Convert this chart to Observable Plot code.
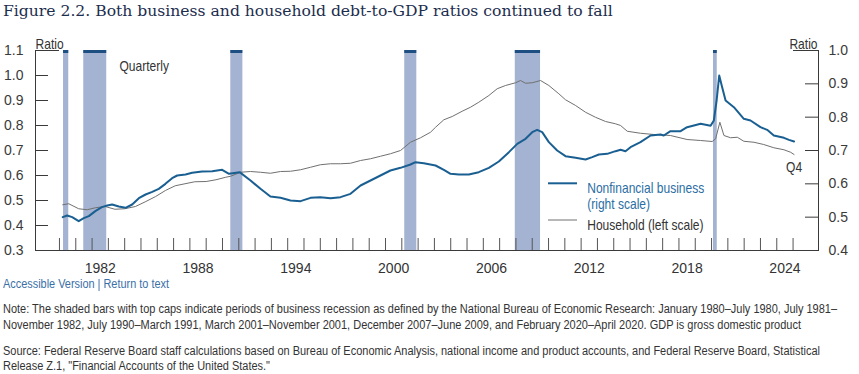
<!DOCTYPE html>
<html><head><meta charset="utf-8">
<script src="https://cdn.jsdelivr.net/npm/d3@7"></script>
<script src="https://cdn.jsdelivr.net/npm/@observablehq/plot@0.6"></script>
<style>
body{margin:0;background:#fff;}
#wrap{position:relative;width:859px;height:374px;overflow:hidden;background:#fff;}
.t{position:absolute;left:3px;white-space:nowrap;}
#title{top:3.8px;font:15.6px/15.6px "DejaVu Serif",serif;color:#1c2d4e;}
#chart{position:absolute;left:0;top:22px;}
.n{font:12px/12px "Liberation Sans",Arial,sans-serif;color:#333;transform-origin:0 0;}
</style></head>
<body><div id="wrap">
<div id="title" class="t">Figure 2.2. Both business and household debt-to-GDP ratios continued to fall</div>
<div id="chart"></div>
<div class="t n" data-right="169" style="top:277.5px;color:#3a70a8">Accessible Version | Return to text</div>
<div class="t n" data-right="837" style="top:303.3px">Note: The shaded bars with top caps indicate periods of business recession as defined by the National Bureau of Economic Research: January 1980–July 1980, July 1981–</div>
<div class="t n" data-right="801" style="top:319.3px">November 1982, July 1990–March 1991, March 2001–November 2001, December 2007–June 2009, and February 2020–April 2020. GDP is gross domestic product</div>
<div class="t n" data-right="820" style="top:344.6px">Source: Federal Reserve Board staff calculations based on Bureau of Economic Analysis, national income and product accounts, and Federal Reserve Board, Statistical</div>
<div class="t n" data-right="270" style="top:360.3px">Release Z.1, "Financial Accounts of the United States."</div>
</div>
<script>
const householdYears = [1980.2,1980.57,1981.18,1981.7,1982.2,1982.8,1983.4,1984.0,1984.66,1985.3,1985.9,1986.5,1987.1,1987.7,1988.3,1989.0,1989.6,1990.2,1990.5,1991.1,1991.72,1992.33,1992.94,1993.56,1994.17,1994.79,1995.4,1996.0,1996.63,1997.24,1997.85,1998.47,1999.08,1999.69,2000.3,2000.92,2001.53,2002.15,2002.76,2003.07,2003.58,2004.09,2004.7,2005.21,2005.72,2006.34,2006.85,2007.36,2007.98,2008.28,2008.59,2009.0,2009.51,2010.02,2010.63,2011.04,2011.66,2012.27,2012.88,2013.5,2014.1,2014.42,2014.83,2015.64,2016.46,2017.48,2018.5,2019.33,2020.04,2020.25,2020.51,2020.76,2021.17,2021.58,2021.98,2022.6,2023.2,2023.82,2024.44,2024.85,2025.06];
const householdValues = [0.483,0.487,0.467,0.463,0.471,0.476,0.465,0.467,0.476,0.496,0.516,0.54,0.559,0.567,0.575,0.576,0.583,0.593,0.597,0.613,0.616,0.613,0.609,0.616,0.617,0.623,0.633,0.643,0.647,0.647,0.649,0.66,0.667,0.677,0.687,0.70,0.733,0.751,0.773,0.793,0.823,0.836,0.857,0.873,0.893,0.92,0.947,0.96,0.971,0.98,0.969,0.971,0.98,0.96,0.927,0.903,0.88,0.853,0.833,0.816,0.807,0.80,0.777,0.769,0.764,0.76,0.744,0.74,0.736,0.747,0.813,0.76,0.751,0.753,0.737,0.733,0.724,0.711,0.703,0.693,0.684];
const businessYears = [1980.2,1980.47,1980.78,1981.18,1981.49,1981.8,1982.2,1982.6,1982.93,1983.23,1983.64,1984.05,1984.46,1984.87,1985.28,1985.69,1986.09,1986.5,1986.91,1987.22,1987.73,1988.14,1988.75,1989.37,1989.98,1990.4,1991.05,1991.72,1992.33,1992.94,1993.56,1994.17,1994.79,1995.4,1996.0,1996.63,1997.24,1997.85,1998.47,1999.08,1999.69,2000.3,2000.92,2001.53,2001.84,2002.35,2003.07,2003.58,2003.99,2004.5,2005.11,2005.72,2006.34,2006.95,2007.57,2008.08,2008.59,2009.0,2009.3,2009.61,2010.02,2010.53,2011.04,2011.66,2012.27,2012.68,2013.09,2013.6,2014.11,2014.42,2014.72,2015.03,2015.64,2016.26,2016.87,2017.07,2017.48,2018.1,2018.5,2019.33,2019.94,2020.14,2020.31,2020.47,2020.65,2020.86,2021.37,2021.98,2022.39,2023.0,2023.41,2023.82,2024.44,2024.75,2025.06];
const businessValues = [0.50,0.505,0.50,0.488,0.497,0.503,0.518,0.53,0.535,0.538,0.532,0.528,0.538,0.557,0.568,0.576,0.585,0.60,0.617,0.625,0.628,0.633,0.637,0.638,0.642,0.63,0.635,0.61,0.585,0.562,0.558,0.55,0.548,0.558,0.56,0.557,0.56,0.57,0.595,0.61,0.625,0.64,0.648,0.658,0.665,0.662,0.655,0.642,0.63,0.628,0.628,0.635,0.648,0.667,0.695,0.72,0.735,0.755,0.762,0.755,0.725,0.70,0.683,0.678,0.673,0.68,0.688,0.69,0.698,0.702,0.698,0.71,0.725,0.745,0.748,0.745,0.758,0.758,0.77,0.78,0.774,0.79,0.85,0.925,0.89,0.85,0.83,0.795,0.79,0.77,0.762,0.745,0.738,0.732,0.727];
const recessionStarts = [1980.25,1981.49,1990.51,2001.18,2007.96,2020.12];
const recessionEnds = [1980.57,1982.9,1991.25,2001.92,2009.51,2020.35];
const leftTicks = [0.3,0.4,0.5,0.6,0.7,0.8,0.9,1.0,1.1];
const rightTicks = [0.4,0.5,0.6,0.7,0.8,0.9,1.0];
const yearTicks = d3.range(1980, 2026);
const yearLabels = [1982,1988,1994,2000,2006,2012,2018,2024];
const xDomain = [1978.53, 2026.56];

const household = householdYears.map((year,i)=>({year, value: householdValues[i]}));
const business = businessYears.map((year,i)=>({year, value: businessValues[i]}));
const recessions = recessionStarts.map((start,i)=>({start, end: recessionEnds[i]}));
const toLeft = d3.scaleLinear().domain([0.4,1.0]).range([0.3,1.1]);
const narrow = "'Liberation Sans',Arial,sans-serif";
const fmt = d3.format(".1f");
const axisColor = "#3a3a3a";
const blue = "#1a5f91", gray = "#707070";

const legend = (index, scales, values, dim) => {
  const g = d3.create("svg:g");
  const x0 = dim.marginLeft, y0 = dim.marginTop;
  g.append("line").attr("x1", x0+513).attr("x2", x0+542).attr("y1", y0+133.3).attr("y2", y0+133.3).attr("stroke", blue).attr("stroke-width", 2);
  g.append("line").attr("x1", x0+513).attr("x2", x0+542).attr("y1", y0+170).attr("y2", y0+170).attr("stroke", gray).attr("stroke-width", 1);
  return g.node();
};
const lbl = (s, o) => Plot.text([s], {textAnchor: "start", fontFamily: narrow, fontSize: 14, fill: "#333", stroke: "none", ...o, className: "narrowtext"});

const chart = Plot.plot({
  width: 859, height: 256,
  marginTop: 28, marginRight: 41, marginBottom: 28, marginLeft: 35,
  x: {domain: xDomain},
  y: {domain: [0.3, 1.1]},
  style: {fontFamily: "'Liberation Sans',Arial,sans-serif", fontSize: "14px", color: "#333", background: "#fff"},
  marks: [
    Plot.rect(recessions, {x1: "start", x2: "end", fill: "#a4b3d1"}),
    Plot.rect(recessions, {x1: "start", x2: "end", fill: "#1e4f82", insetBottom: 197}),
    Plot.line(household, {x: "year", y: "value", stroke: gray, strokeWidth: 1}),
    Plot.line(business, {x: "year", y: d => toLeft(d.value), stroke: blue, strokeWidth: 2}),
    Plot.ruleY([0.3], {stroke: axisColor}),
    Plot.ruleX(xDomain, {stroke: axisColor}),
    Plot.axisY(leftTicks, {anchor: "left", tickSize: -13, tickPadding: 25, tickFormat: fmt, label: null, color: axisColor}),
    Plot.axisY([1.1], {anchor: "left", tickSize: -24, tickFormat: () => "", label: null, color: axisColor}),
    Plot.axisY(rightTicks.map(toLeft), {anchor: "right", tickSize: -14, tickPadding: 24, tickFormat: d => fmt(toLeft.invert(d)), label: null, color: axisColor}),
    Plot.axisY([toLeft(1.0)], {anchor: "right", tickSize: -26, tickFormat: () => "", label: null, color: axisColor}),
    Plot.axisX(yearTicks, {anchor: "bottom", tickSize: -12, tickFormat: () => "", label: null, color: "#555"}),
    Plot.axisX(yearLabels.map(y => y + 0.5), {anchor: "bottom", tickSize: 0, tickPadding: 13, tickFormat: d => String(Math.floor(d)), label: null, color: "#333"}),
    lbl("Ratio", {frameAnchor: "top-left", dy: -11.5}),
    lbl("Ratio", {frameAnchor: "top-right", dy: -11.5, dx: -1, textAnchor: "end"}),
    lbl("Quarterly", {frameAnchor: "top-left", dx: 84, dy: 10.5}),
    lbl("Nonfinancial business", {frameAnchor: "top-left", dx: 551.7, dy: 132.8, fill: "#2c6ea3"}),
    lbl("(right scale)", {frameAnchor: "top-left", dx: 551.7, dy: 148.5, fill: "#2c6ea3"}),
    lbl("Household (left scale)", {frameAnchor: "top-left", dx: 551.7, dy: 169.5}),
    Plot.text([household[household.length - 1]], {x: "year", y: "value", text: () => "Q4", dy: 13, dx: -8, textAnchor: "start", fontFamily: narrow, fontSize: 14, fill: "#333", className: "narrowtext"}),
    legend
  ]
});
// condense the annotation texts horizontally (narrow gothic look)
d3.select(chart).selectAll(".narrowtext text, g.narrowtext text").each(function() {
  const t = this;
  const x = t.getAttribute("x");
  if (x) t.setAttribute("x", (+x) / 0.86);
  t.setAttribute("transform", (t.getAttribute("transform") || "") + " scale(0.86,1)");
});
document.getElementById("chart").appendChild(chart);
// fit each note line to the reference line length (condensed sans)
document.querySelectorAll(".n").forEach(el => {
  const w = el.getBoundingClientRect().width;
  const target = +el.dataset.right - 3;
  if (w > 0) el.style.transform = `scaleX(${target / w})`;
});
</script>
</body></html>
